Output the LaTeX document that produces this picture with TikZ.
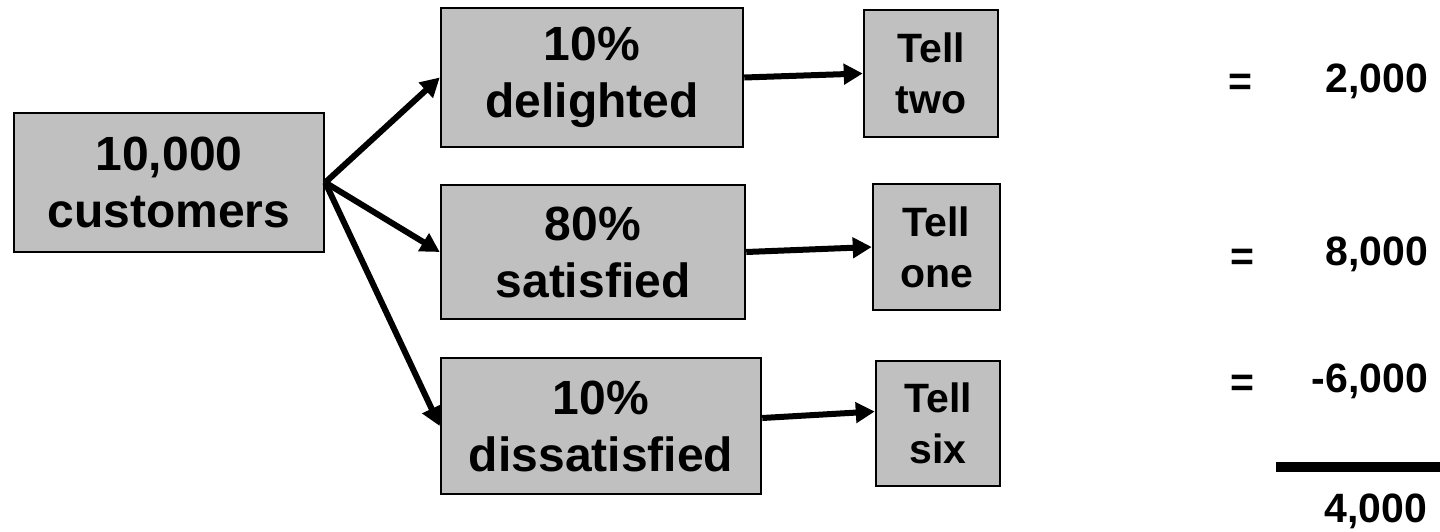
\documentclass[tikz,border=0pt]{standalone}
\usepackage{fontspec}
\setmainfont{Liberation Sans}
\usetikzlibrary{arrows.meta}
\definecolor{boxgray}{RGB}{192,192,192}
\newcommand\bxfont{\fontsize{48}{57}\selectfont\bfseries}
\newcommand\tlfont{\fontsize{41}{51}\selectfont\bfseries}
\newcommand\nmfont{\fontsize{41}{47}\selectfont\bfseries}
\begin{document}
\begin{tikzpicture}[x=1pt,y=-1pt,
  box/.style={draw=black, line width=2.5pt, fill=boxgray, inner sep=0pt, align=center, font=\bxfont},
  tellbox/.style={box, font=\tlfont},
  conn/.style={line width=6pt, draw=black, -{Triangle[length=19pt,width=20pt]}},
  num/.style={anchor=base east, inner sep=0pt, font=\nmfont},
  eqs/.style={anchor=base, inner sep=0pt, font=\nmfont}]
\useasboundingbox (0,0) rectangle (1440,531);
% boxes
\node[box, minimum width=310pt, minimum height=139pt] (cust) at (169,182.5) {10,000\\customers};
\node[box, minimum width=302pt, minimum height=139pt] (del) at (592,77.5) {10\%\\delighted};
\node[box, minimum width=304pt, minimum height=134pt] (sat) at (593,252) {80\%\\satisfied};
\node[box, minimum width=320pt, minimum height=136pt] (dis) at (601,426) {10\%\\dissatisfied};
\node[tellbox, minimum width=134pt, minimum height=127pt] (two) at (931,73.5) {Tell\\two};
\node[tellbox, minimum width=127pt, minimum height=126pt] (one) at (936.5,247) {Tell\\one};
\node[tellbox, minimum width=124pt, minimum height=125pt] (six) at (938,423.5) {Tell\\six};
% connectors
\draw[conn] (cust.east) -- (del.west);
\draw[conn] (cust.east) -- (sat.west);
\draw[conn] (cust.east) -- (dis.west);
\draw[conn] (del.east) -- (two.west);
\draw[conn] (sat.east) -- (one.west);
\draw[conn] ([yshift=8pt]dis.east) -- ([yshift=12pt]six.west);
% results
\node[eqs] (e1) at (1240,95.5) {=};
\node[eqs] (e2) at (1242,270.5) {=};
\node[eqs] (e3) at (1242,396.5) {=};
\node[num] (r1) at (1428,92) {2,000};
\node[num] (r2) at (1428,265) {8,000};
\node[num] (r3) at (1428,392) {-6,000};
\node[num] (tot) at (1427,522) {4,000};
\coordinate (l1) at (1276,467);
\coordinate (l2) at (1440,467);
\draw[line width=10pt] (l1) -- (l2);
\end{tikzpicture}
\end{document}
